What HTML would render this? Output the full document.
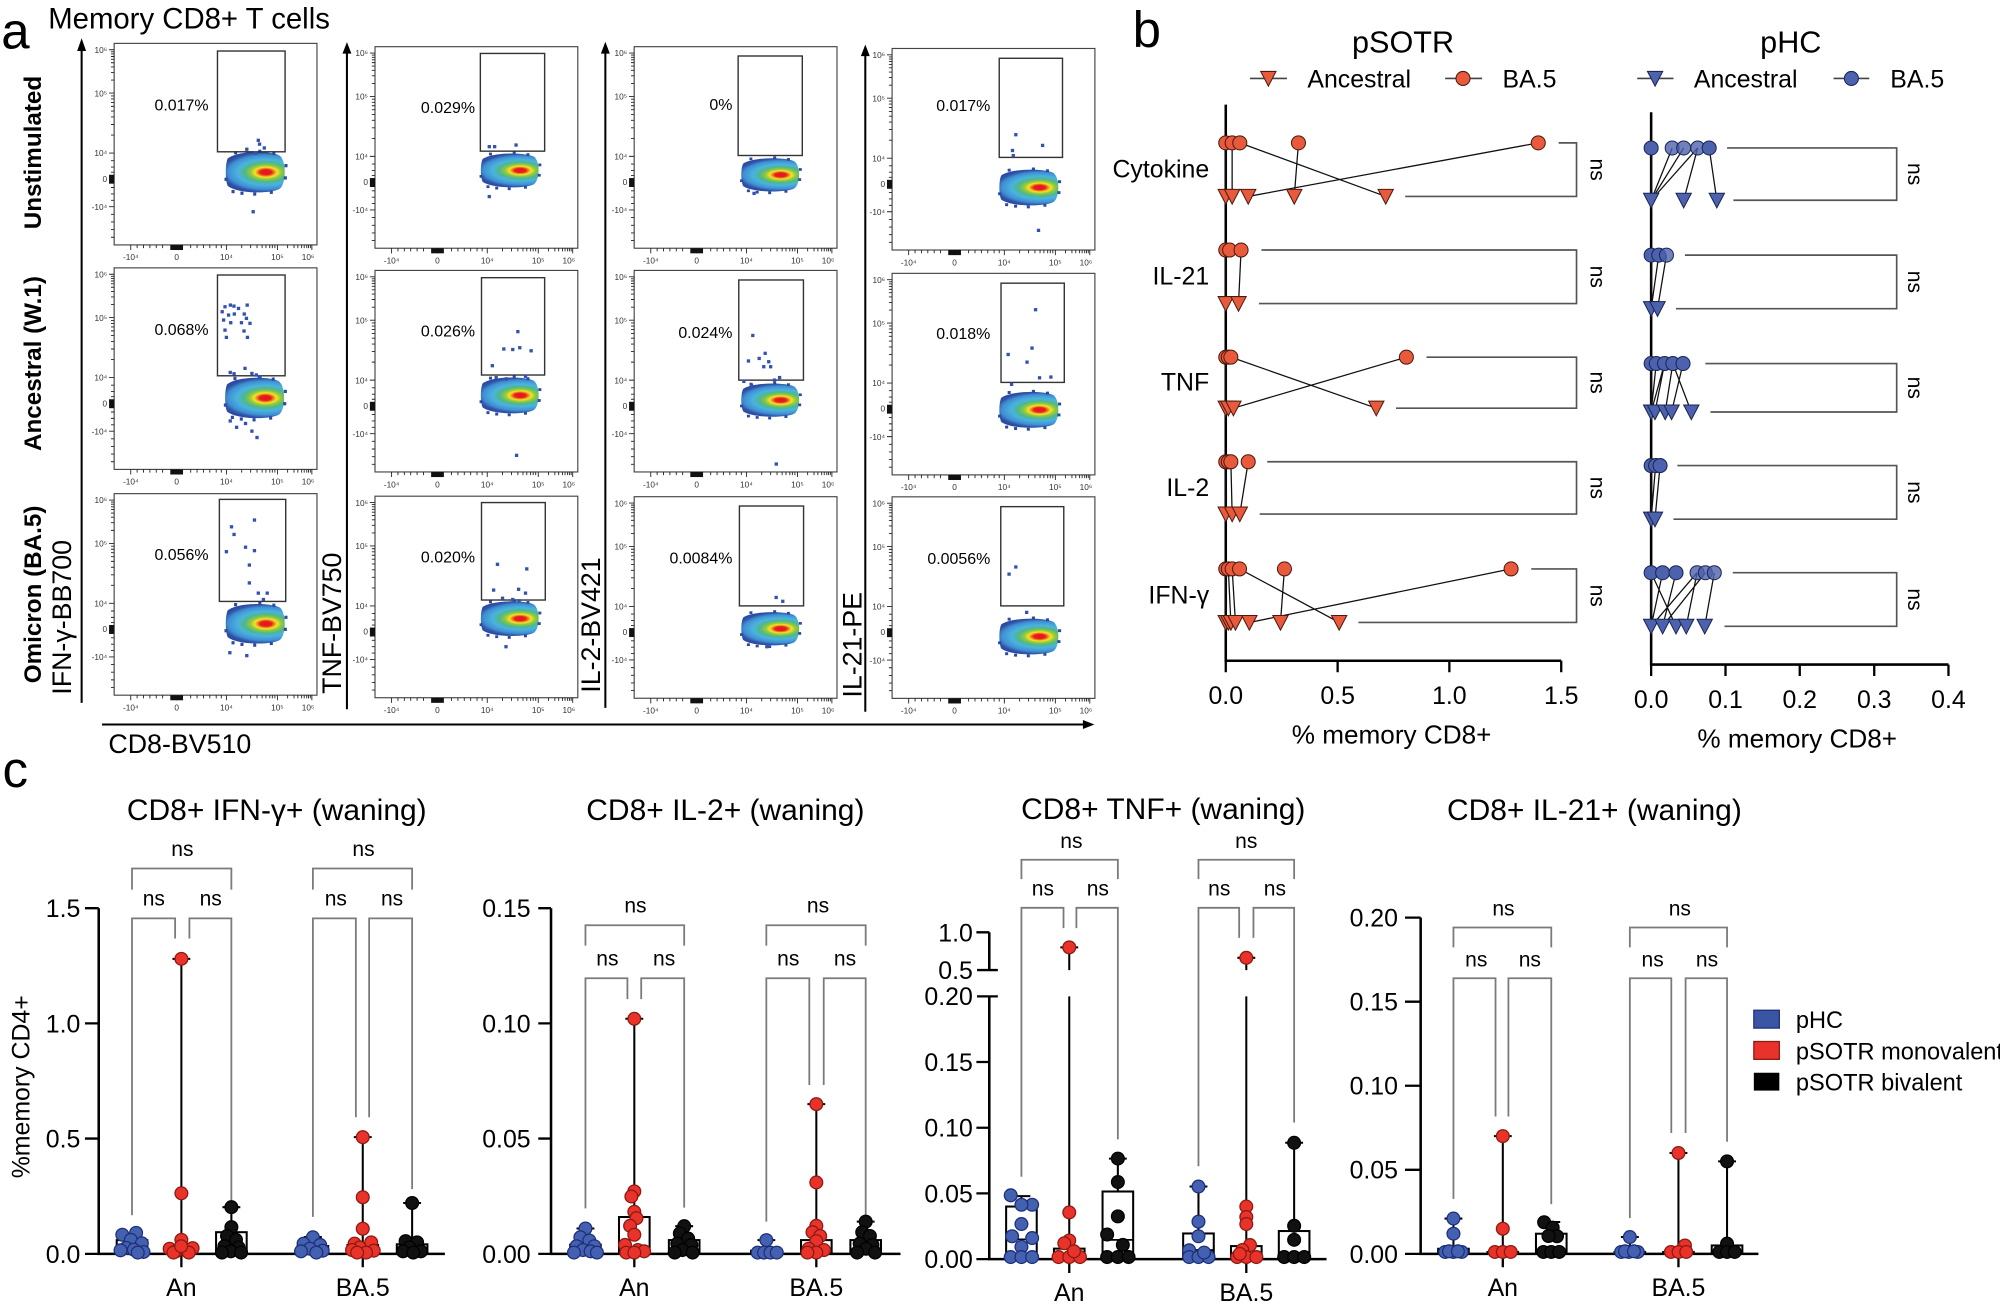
<!DOCTYPE html>
<html><head><meta charset="utf-8">
<style>
html,body{margin:0;padding:0;background:#fff;}
svg{display:block;}
text{font-family:"Liberation Sans",Arial,sans-serif;fill:#000;}
.tl{font-size:6.5px;text-anchor:end;fill:#333}
.tx{font-size:6.5px;text-anchor:middle;fill:#333}
.gate{fill:none;stroke:#333;stroke-width:1.1}
.pct{font-size:12.5px;text-anchor:end}
.d{fill:#3352b0}
.ax{stroke:#000;stroke-width:2;fill:none}
.tk{stroke:#000;stroke-width:1.8;fill:none}
.br{stroke:#7a7a7a;stroke-width:1.4;fill:none}
.bx{fill:#fff;stroke:#000;stroke-width:1.6}
.wh{stroke:#000;stroke-width:1.6;fill:none}
.md{stroke:#000;stroke-width:1.4}
.pb{fill:#4461b1;stroke:#1d2f78;stroke-width:1}
.pr{fill:#e8322a;stroke:#8c1a12;stroke-width:1}
.pk{fill:#111;stroke:#000;stroke-width:1}
.ns{font-size:16.5px;text-anchor:middle}
.yl{font-size:19.5px;text-anchor:end}
.xl{font-size:19.5px;text-anchor:middle}
.bl{stroke:#111;stroke-width:1;fill:none}
.br2{stroke:#555;stroke-width:1.3;fill:none}
.os{fill:#e95a3c;stroke:#4a1a10;stroke-width:0.8}
.bs{fill:#4c62ae;stroke:#1c2550;stroke-width:0.8}
.cat{font-size:19.5px;text-anchor:end}
</style></head><body>
<svg xmlns="http://www.w3.org/2000/svg" xmlns:xlink="http://www.w3.org/1999/xlink" width="2000" height="1310" viewBox="0 0 1568 1027" preserveAspectRatio="none">
<defs>
<radialGradient id="bg" gradientUnits="userSpaceOnUse" cx="8" cy="0" r="38" gradientTransform="translate(8 0) scale(1 0.42) translate(-8 0)">
<stop offset="0" stop-color="#e0141b"/>
<stop offset="0.12" stop-color="#e8201c"/>
<stop offset="0.17" stop-color="#f47a22"/>
<stop offset="0.23" stop-color="#f3e523"/>
<stop offset="0.32" stop-color="#93c83e"/>
<stop offset="0.44" stop-color="#4db88a"/>
<stop offset="0.58" stop-color="#4ab3e0"/>
<stop offset="0.78" stop-color="#3f8fd2"/>
<stop offset="0.9" stop-color="#2f53a8"/>
<stop offset="1" stop-color="#2b47a0"/>
</radialGradient>
<g id="blob">
<path d="M-22,-10 C-14,-16 12,-16 19,-12 C24,-8 24,8 19,12 C12,16 -14,16 -22,10 C-24,6 -24,-6 -22,-10Z" fill="url(#bg)"/>
<g fill="#2b4aa2">
<rect x="-19" y="13" width="2.4" height="2.4"/><rect x="-12" y="14.2" width="2.4" height="2.4"/><rect x="-2" y="14.8" width="2.4" height="2.4"/><rect x="11" y="13.5" width="2.4" height="2.4"/>
<rect x="-17" y="-15.5" width="2.4" height="2.4"/><rect x="2" y="-16.5" width="2.4" height="2.4"/><rect x="13" y="-15" width="2.4" height="2.4"/><rect x="22" y="3" width="2.4" height="2.4"/><rect x="22.5" y="-6" width="2.4" height="2.4"/><rect x="-24.5" y="4" width="2.4" height="2.4"/>
</g>
</g>
<g id="ax">
<rect x="0" y="0" width="159" height="158" fill="none" stroke="#444" stroke-width="0.9"/>
<path stroke="#222" stroke-width="0.7" fill="none" d="M-4,5H0M-4,39H0M-4,86H0M-4,128H0M-2.5,6.6H0M-2.5,8.3H0M-2.5,10.3H0M-2.5,12.5H0M-2.5,15.2H0M-2.5,18.5H0M-2.5,22.8H0M-2.5,28.8H0M-2.5,41.2H0M-2.5,43.6H0M-2.5,46.3H0M-2.5,49.4H0M-2.5,53.1H0M-2.5,57.7H0M-2.5,63.6H0M-2.5,71.9H0M-2.5,92H0M-2.5,97H0M-2.5,101H0M-2.5,113H0M-2.5,118H0M-2.5,123H0M-2.5,134H0M-2.5,140H0M-2.5,146H0M-2.5,152H0"/>
<rect x="-4" y="103" width="4" height="7" fill="#111"/>
<path stroke="#222" stroke-width="0.7" fill="none" d="M13,158v4M49,158v4M88,158v4M128,158v4M155,158v4M18,158v2.5M23,158v2.5M28,158v2.5M33,158v2.5M38,158v2.5M60,158v2.5M65,158v2.5M70,158v2.5M75,158v2.5M80,158v2.5M84,158v2.5M100,158v2.5M107,158v2.5M112,158v2.5M116,158v2.5M119,158v2.5M122,158v2.5M124,158v2.5M126,158v2.5M136,158v2.5M141,158v2.5M144,158v2.5M147,158v2.5M149,158v2.5M151,158v2.5M152.4,158v2.5M153.8,158v2.5"/>
<rect x="44" y="158" width="10" height="4" fill="#111"/>
</g>
<path id="tri" d="M-6,-5.5L6,-5.5L0,6Z"/>
</defs>

<!-- ================= PANEL A ================= -->
<text x="1" y="38" font-size="40">a</text>
<text x="37.8" y="22.5" font-size="23">Memory CD8+ T cells</text>

<text transform="translate(32,119.6) rotate(-90)" font-size="19" font-weight="bold" text-anchor="middle">Unstimulated</text>
<text transform="translate(32,285) rotate(-90)" font-size="19" font-weight="bold" text-anchor="middle">Ancestral (W.1)</text>
<text transform="translate(32,466) rotate(-90)" font-size="19" font-weight="bold" text-anchor="middle">Omicron (BA.5)</text>
<text transform="translate(55.5,484) rotate(-90)" font-size="21" text-anchor="middle">IFN-γ-BB700</text>
<text transform="translate(267.5,488.6) rotate(-90)" font-size="21" text-anchor="middle">TNF-BV750</text>
<text transform="translate(470.5,490) rotate(-90)" font-size="21" text-anchor="middle">IL-2-BV421</text>
<text transform="translate(675.5,505.5) rotate(-90)" font-size="21" text-anchor="middle">IL-21-PE</text>
<text x="85" y="590.5" font-size="21">CD8-BV510</text>

<g stroke="#000" stroke-width="1.6" fill="none">
<path d="M64,551V38M272,556V41M474.6,555V41M678.4,558V43M80,568H850"/>
</g>
<g fill="#000">
<polygon points="60.5,40 67.5,40 64,30"/>
<polygon points="268.5,42 275.5,42 272,33"/>
<polygon points="471.1,42 478.1,42 474.6,32.7"/>
<polygon points="674.9,44 681.9,44 678.4,35"/>
<polygon points="849,564.5 849,571.5 858,568"/>
</g>

<!-- col1 row1 -->
<g transform="translate(89.5,34)">
<use href="#ax" xlink:href="#ax"/>
<use href="#blob" xlink:href="#blob" transform="translate(111,101) scale(1,1.07)"/>
<rect class="gate" x="81" y="6" width="53" height="79"/>
<text class="pct" x="74" y="52.5">0.017%</text>
<g class="d"><rect x="111.7" y="74.7" width="2.6" height="2.6"/><rect x="112.7" y="77.7" width="2.6" height="2.6"/><rect x="116.4" y="80.7" width="2.6" height="2.6"/><rect x="102.7" y="81.7" width="2.6" height="2.6"/><rect x="109.7" y="84.7" width="2.6" height="2.6"/><rect x="107.7" y="130.7" width="2.6" height="2.6"/></g>
<text class="tl" x="-5.5" y="7.5">10⁶</text><text class="tl" x="-5.5" y="41.5">10⁵</text><text class="tl" x="-5.5" y="88.5">10⁴</text><text class="tl" x="-5.5" y="108.5">0</text><text class="tl" x="-5.5" y="130.5">-10⁴</text>
<text class="tx" x="13" y="170">-10⁴</text><text class="tx" x="49" y="170">0</text><text class="tx" x="88" y="170">10⁴</text><text class="tx" x="128" y="170">10⁵</text><text class="tx" x="152" y="170">10⁶</text>
</g>
<!-- col1 row2 -->
<g transform="translate(89.5,210)">
<use href="#ax" xlink:href="#ax"/>
<use href="#blob" xlink:href="#blob" transform="translate(110.5,102) scale(1,1.07)"/>
<rect class="gate" x="81" y="5.6" width="53" height="79"/>
<text class="pct" x="74" y="52.5">0.068%</text>
<g class="d"><rect x="85.6" y="29.2" width="2.6" height="2.6"/><rect x="89.8" y="27.9" width="2.6" height="2.6"/><rect x="92.6" y="28.7" width="2.6" height="2.6"/><rect x="96.2" y="30.5" width="2.6" height="2.6"/><rect x="103" y="27.9" width="2.6" height="2.6"/><rect x="83.4" y="33.1" width="2.6" height="2.6"/><rect x="88.4" y="35.7" width="2.6" height="2.6"/><rect x="92.9" y="34.9" width="2.6" height="2.6"/><rect x="100.7" y="34.9" width="2.6" height="2.6"/><rect x="102.4" y="38.3" width="2.6" height="2.6"/><rect x="84.5" y="39.6" width="2.6" height="2.6"/><rect x="90.1" y="41.7" width="2.6" height="2.6"/><rect x="98.5" y="41.7" width="2.6" height="2.6"/><rect x="105.2" y="42.2" width="2.6" height="2.6"/><rect x="85.6" y="47.5" width="2.6" height="2.6"/><rect x="100.5" y="48.2" width="2.6" height="2.6"/><rect x="86.7" y="53.2" width="2.6" height="2.6"/><rect x="103.2" y="53.2" width="2.6" height="2.6"/><rect x="89.7" y="80.7" width="2.6" height="2.6"/><rect x="92.7" y="81.7" width="2.6" height="2.6"/><rect x="101.3" y="77.5" width="2.6" height="2.6"/><rect x="106.7" y="81.5" width="2.6" height="2.6"/><rect x="110.2" y="82.7" width="2.6" height="2.6"/><rect x="113.1" y="84" width="2.6" height="2.6"/><rect x="89.7" y="118.7" width="2.6" height="2.6"/><rect x="94.7" y="123.7" width="2.6" height="2.6"/><rect x="101.7" y="120.7" width="2.6" height="2.6"/><rect x="106.7" y="126.7" width="2.6" height="2.6"/><rect x="110.7" y="131.7" width="2.6" height="2.6"/></g>
<text class="tl" x="-5.5" y="7.5">10⁶</text><text class="tl" x="-5.5" y="41.5">10⁵</text><text class="tl" x="-5.5" y="88.5">10⁴</text><text class="tl" x="-5.5" y="108.5">0</text><text class="tl" x="-5.5" y="130.5">-10⁴</text>
<text class="tx" x="13" y="170">-10⁴</text><text class="tx" x="49" y="170">0</text><text class="tx" x="88" y="170">10⁴</text><text class="tx" x="128" y="170">10⁵</text><text class="tx" x="152" y="170">10⁶</text>
</g>
<!-- col1 row3 -->
<g transform="translate(89.5,387)">
<use href="#ax" xlink:href="#ax"/>
<use href="#blob" xlink:href="#blob" transform="translate(111,102) scale(1,1.05)"/>
<rect class="gate" x="82.5" y="4.5" width="52" height="80"/>
<text class="pct" x="74" y="52">0.056%</text>
<g class="d"><rect x="90.7" y="24.7" width="2.6" height="2.6"/><rect x="108.7" y="19.4" width="2.6" height="2.6"/><rect x="92.7" y="30.7" width="2.6" height="2.6"/><rect x="86.7" y="44.2" width="2.6" height="2.6"/><rect x="101.7" y="40.7" width="2.6" height="2.6"/><rect x="108.7" y="43.4" width="2.6" height="2.6"/><rect x="104.7" y="54.7" width="2.6" height="2.6"/><rect x="104.7" y="68.7" width="2.6" height="2.6"/><rect x="111.7" y="76.7" width="2.6" height="2.6"/><rect x="118.7" y="76.7" width="2.6" height="2.6"/><rect x="115.7" y="81.7" width="2.6" height="2.6"/><rect x="89.4" y="123.4" width="2.6" height="2.6"/><rect x="102.7" y="125.7" width="2.6" height="2.6"/></g>
<text class="tl" x="-5.5" y="7.5">10⁶</text><text class="tl" x="-5.5" y="41.5">10⁵</text><text class="tl" x="-5.5" y="88.5">10⁴</text><text class="tl" x="-5.5" y="108.5">0</text><text class="tl" x="-5.5" y="130.5">-10⁴</text>
<text class="tx" x="13" y="170">-10⁴</text><text class="tx" x="49" y="170">0</text><text class="tx" x="88" y="170">10⁴</text><text class="tx" x="128" y="170">10⁵</text><text class="tx" x="152" y="170">10⁶</text>
</g>

<!-- col2 row1 -->
<g transform="translate(294,36.6)">
<use href="#ax" xlink:href="#ax"/>
<use href="#blob" xlink:href="#blob" transform="translate(106,97) scale(0.98,0.9)"/>
<rect class="gate" x="82.6" y="5.3" width="50.4" height="76.6"/>
<text class="pct" x="78.4" y="52">0.029%</text>
<g class="d"><rect x="88.3" y="116.2" width="2.6" height="2.6"/><rect x="88.3" y="77.1" width="2.6" height="2.6"/><rect x="92.5" y="77.1" width="2.6" height="2.6"/><rect x="109.3" y="75.8" width="2.6" height="2.6"/></g>
<text class="tl" x="-5.5" y="7.5">10⁶</text><text class="tl" x="-5.5" y="41.5">10⁵</text><text class="tl" x="-5.5" y="88.5">10⁴</text><text class="tl" x="-5.5" y="108.5">0</text><text class="tl" x="-5.5" y="130.5">-10⁴</text>
<text class="tx" x="13" y="170">-10⁴</text><text class="tx" x="49" y="170">0</text><text class="tx" x="88" y="170">10⁴</text><text class="tx" x="128" y="170">10⁵</text><text class="tx" x="152" y="170">10⁶</text>
</g>
<!-- col2 row2 -->
<g transform="translate(294,212)">
<use href="#ax" xlink:href="#ax"/>
<use href="#blob" xlink:href="#blob" transform="translate(106,98) scale(0.98,0.95)"/>
<rect class="gate" x="83.5" y="5.7" width="49.5" height="76.3"/>
<text class="pct" x="78.4" y="52">0.026%</text>
<g class="d"><rect x="110.7" y="46.7" width="2.6" height="2.6"/><rect x="99.7" y="60.3" width="2.6" height="2.6"/><rect x="106.7" y="60.7" width="2.6" height="2.6"/><rect x="112.2" y="59.3" width="2.6" height="2.6"/><rect x="121.1" y="61.7" width="2.6" height="2.6"/><rect x="90.7" y="73.4" width="2.6" height="2.6"/><rect x="109.7" y="143.7" width="2.6" height="2.6"/><rect x="93.7" y="82.7" width="2.6" height="2.6"/><rect x="101.7" y="83.7" width="2.6" height="2.6"/><rect x="116.7" y="81.7" width="2.6" height="2.6"/></g>
<text class="tl" x="-5.5" y="7.5">10⁶</text><text class="tl" x="-5.5" y="41.5">10⁵</text><text class="tl" x="-5.5" y="88.5">10⁴</text><text class="tl" x="-5.5" y="108.5">0</text><text class="tl" x="-5.5" y="130.5">-10⁴</text>
<text class="tx" x="13" y="170">-10⁴</text><text class="tx" x="49" y="170">0</text><text class="tx" x="88" y="170">10⁴</text><text class="tx" x="128" y="170">10⁵</text><text class="tx" x="152" y="170">10⁶</text>
</g>
<!-- col2 row3 -->
<g transform="translate(294,389)">
<use href="#ax" xlink:href="#ax"/>
<use href="#blob" xlink:href="#blob" transform="translate(106,96) scale(0.98,0.92)"/>
<rect class="gate" x="83.5" y="5" width="50" height="76.4"/>
<text class="pct" x="78.4" y="52">0.020%</text>
<g class="d"><rect x="94.7" y="52.1" width="2.6" height="2.6"/><rect x="117.7" y="55.7" width="2.6" height="2.6"/><rect x="91.7" y="72.3" width="2.6" height="2.6"/><rect x="111.3" y="71.7" width="2.6" height="2.6"/><rect x="116.7" y="74.7" width="2.6" height="2.6"/><rect x="101.4" y="116.7" width="2.6" height="2.6"/><rect x="98.7" y="78.7" width="2.6" height="2.6"/><rect x="106.7" y="79.7" width="2.6" height="2.6"/><rect x="111.7" y="80.7" width="2.6" height="2.6"/></g>
<text class="tl" x="-5.5" y="7.5">10⁶</text><text class="tl" x="-5.5" y="41.5">10⁵</text><text class="tl" x="-5.5" y="88.5">10⁴</text><text class="tl" x="-5.5" y="108.5">0</text><text class="tl" x="-5.5" y="130.5">-10⁴</text>
<text class="tx" x="13" y="170">-10⁴</text><text class="tx" x="49" y="170">0</text><text class="tx" x="88" y="170">10⁴</text><text class="tx" x="128" y="170">10⁵</text><text class="tx" x="152" y="170">10⁶</text>
</g>

<!-- col3 row1 -->
<g transform="translate(497.2,36.6)">
<use href="#ax" xlink:href="#ax"/>
<use href="#blob" xlink:href="#blob" transform="translate(107,100.5) scale(0.98,0.88)"/>
<rect class="gate" x="81.5" y="7.3" width="50.3" height="78"/>
<text class="pct" x="77" y="49.5">0%</text>
<g class="d"><rect x="92.7" y="113.7" width="2.6" height="2.6"/></g>
<text class="tl" x="-5.5" y="7.5">10⁶</text><text class="tl" x="-5.5" y="41.5">10⁵</text><text class="tl" x="-5.5" y="88.5">10⁴</text><text class="tl" x="-5.5" y="108.5">0</text><text class="tl" x="-5.5" y="130.5">-10⁴</text>
<text class="tx" x="13" y="170">-10⁴</text><text class="tx" x="49" y="170">0</text><text class="tx" x="88" y="170">10⁴</text><text class="tx" x="128" y="170">10⁵</text><text class="tx" x="152" y="170">10⁶</text>
</g>
<!-- col3 row2 -->
<g transform="translate(497.2,212)">
<use href="#ax" xlink:href="#ax"/>
<use href="#blob" xlink:href="#blob" transform="translate(107,101.7) scale(0.98,0.88)"/>
<rect class="gate" x="82" y="7.5" width="50.7" height="78.5"/>
<text class="pct" x="77" y="53">0.024%</text>
<g class="d"><rect x="91.7" y="49.7" width="2.6" height="2.6"/><rect x="101.4" y="63.7" width="2.6" height="2.6"/><rect x="96.7" y="67.7" width="2.6" height="2.6"/><rect x="104.2" y="70.3" width="2.6" height="2.6"/><rect x="88.3" y="69.7" width="2.6" height="2.6"/><rect x="100.3" y="74.2" width="2.6" height="2.6"/><rect x="105.7" y="74.2" width="2.6" height="2.6"/><rect x="110.1" y="150.5" width="2.6" height="2.6"/><rect x="84.7" y="85.7" width="2.6" height="2.6"/><rect x="90.7" y="88.7" width="2.6" height="2.6"/><rect x="108.7" y="84.7" width="2.6" height="2.6"/><rect x="112.7" y="82.7" width="2.6" height="2.6"/></g>
<text class="tl" x="-5.5" y="7.5">10⁶</text><text class="tl" x="-5.5" y="41.5">10⁵</text><text class="tl" x="-5.5" y="88.5">10⁴</text><text class="tl" x="-5.5" y="108.5">0</text><text class="tl" x="-5.5" y="130.5">-10⁴</text>
<text class="tx" x="13" y="170">-10⁴</text><text class="tx" x="49" y="170">0</text><text class="tx" x="88" y="170">10⁴</text><text class="tx" x="128" y="170">10⁵</text><text class="tx" x="152" y="170">10⁶</text>
</g>
<!-- col3 row3 -->
<g transform="translate(497.2,389.4)">
<use href="#ax" xlink:href="#ax"/>
<use href="#blob" xlink:href="#blob" transform="translate(107,103.5) scale(0.98,0.88)"/>
<rect class="gate" x="82.5" y="7.3" width="50.3" height="78.3"/>
<text class="pct" x="77" y="52.5">0.0084%</text>
<g class="d"><rect x="110" y="77.7" width="2.6" height="2.6"/><rect x="115.2" y="80.7" width="2.6" height="2.6"/><rect x="102.7" y="116.3" width="2.6" height="2.6"/></g>
<text class="tl" x="-5.5" y="7.5">10⁶</text><text class="tl" x="-5.5" y="41.5">10⁵</text><text class="tl" x="-5.5" y="88.5">10⁴</text><text class="tl" x="-5.5" y="108.5">0</text><text class="tl" x="-5.5" y="130.5">-10⁴</text>
<text class="tx" x="13" y="170">-10⁴</text><text class="tx" x="49" y="170">0</text><text class="tx" x="88" y="170">10⁴</text><text class="tx" x="128" y="170">10⁵</text><text class="tx" x="152" y="170">10⁶</text>
</g>

<!-- col4 row1 -->
<g transform="translate(699.4,38)">
<use href="#ax" xlink:href="#ax"/>
<use href="#blob" xlink:href="#blob" transform="translate(107.6,109) scale(1,0.95)"/>
<rect class="gate" x="84" y="7.7" width="49.6" height="77.7"/>
<text class="pct" x="77" y="49">0.017%</text>
<g class="d"><rect x="95.7" y="66.3" width="2.6" height="2.6"/><rect x="116.7" y="74.7" width="2.6" height="2.6"/><rect x="93.1" y="78.7" width="2.6" height="2.6"/><rect x="93.7" y="82.7" width="2.6" height="2.6"/><rect x="113.5" y="141.3" width="2.6" height="2.6"/></g>
<text class="tl" x="-5.5" y="7.5">10⁶</text><text class="tl" x="-5.5" y="41.5">10⁵</text><text class="tl" x="-5.5" y="88.5">10⁴</text><text class="tl" x="-5.5" y="108.5">0</text><text class="tl" x="-5.5" y="130.5">-10⁴</text>
<text class="tx" x="13" y="170">-10⁴</text><text class="tx" x="49" y="170">0</text><text class="tx" x="88" y="170">10⁴</text><text class="tx" x="128" y="170">10⁵</text><text class="tx" x="152" y="170">10⁶</text>
</g>
<!-- col4 row2 -->
<g transform="translate(699.4,214.3)">
<use href="#ax" xlink:href="#ax"/>
<use href="#blob" xlink:href="#blob" transform="translate(107.6,107) scale(1,0.95)"/>
<rect class="gate" x="85.4" y="7.7" width="49.6" height="77.8"/>
<text class="pct" x="77" y="51.5">0.018%</text>
<g class="d"><rect x="111.2" y="27.2" width="2.6" height="2.6"/><rect x="108.4" y="57.3" width="2.6" height="2.6"/><rect x="89.7" y="62.3" width="2.6" height="2.6"/><rect x="104.5" y="68.3" width="2.6" height="2.6"/><rect x="114.3" y="80.6" width="2.6" height="2.6"/><rect x="123.2" y="80" width="2.6" height="2.6"/><rect x="92.4" y="85.7" width="2.6" height="2.6"/></g>
<text class="tl" x="-5.5" y="7.5">10⁶</text><text class="tl" x="-5.5" y="41.5">10⁵</text><text class="tl" x="-5.5" y="88.5">10⁴</text><text class="tl" x="-5.5" y="108.5">0</text><text class="tl" x="-5.5" y="130.5">-10⁴</text>
<text class="tx" x="13" y="170">-10⁴</text><text class="tx" x="49" y="170">0</text><text class="tx" x="88" y="170">10⁴</text><text class="tx" x="128" y="170">10⁵</text><text class="tx" x="152" y="170">10⁶</text>
</g>
<!-- col4 row3 -->
<g transform="translate(699.4,389.5)">
<use href="#ax" xlink:href="#ax"/>
<use href="#blob" xlink:href="#blob" transform="translate(107.6,109.5) scale(1,0.95)"/>
<rect class="gate" x="85.2" y="7.7" width="49.4" height="77.8"/>
<text class="pct" x="77" y="52.5">0.0056%</text>
<g class="d"><rect x="95.7" y="53.7" width="2.6" height="2.6"/><rect x="90.4" y="59.3" width="2.6" height="2.6"/><rect x="104.2" y="89.3" width="2.6" height="2.6"/></g>
<text class="tl" x="-5.5" y="7.5">10⁶</text><text class="tl" x="-5.5" y="41.5">10⁵</text><text class="tl" x="-5.5" y="88.5">10⁴</text><text class="tl" x="-5.5" y="108.5">0</text><text class="tl" x="-5.5" y="130.5">-10⁴</text>
<text class="tx" x="13" y="170">-10⁴</text><text class="tx" x="49" y="170">0</text><text class="tx" x="88" y="170">10⁴</text><text class="tx" x="128" y="170">10⁵</text><text class="tx" x="152" y="170">10⁶</text>
</g>

<!-- ================= PANEL B ================= -->
<text x="888" y="37" font-size="40">b</text>
<text x="1100" y="41" font-size="24" text-anchor="middle">pSOTR</text>
<text x="1404" y="41" font-size="24" text-anchor="middle">pHC</text>

<g stroke="#444" stroke-width="1.3">
<path d="M980,61.5H1009M1133,61.5H1162M1283.6,61.5H1312M1437.5,61.5H1465.5"/>
</g>
<use href="#tri" xlink:href="#tri" x="994.4" y="61.5" class="os"/>
<circle cx="1147" cy="61.5" r="5.5" class="os"/>
<use href="#tri" xlink:href="#tri" x="1297.6" y="61.5" class="bs"/>
<circle cx="1451.5" cy="61.5" r="5.5" class="bs"/>
<text x="1025" y="68.5" font-size="19.5">Ancestral</text>
<text x="1178" y="68.5" font-size="19.5">BA.5</text>
<text x="1328" y="68.5" font-size="19.5">Ancestral</text>
<text x="1482" y="68.5" font-size="19.5">BA.5</text>

<path class="ax" d="M961,82V518H1224"/>
<path class="tk" d="M961,518v9M1048.7,518v9M1136.3,518v9M1224,518v9"/>
<text class="xl" x="961" y="552">0.0</text>
<text class="xl" x="1048.7" y="552">0.5</text>
<text class="xl" x="1136.3" y="552">1.0</text>
<text class="xl" x="1224" y="552">1.5</text>
<text x="1091" y="583" font-size="20.5" text-anchor="middle">% memory CD8+</text>

<text class="cat" x="948" y="139">Cytokine</text>
<text class="cat" x="948" y="223">IL-21</text>
<text class="cat" x="948" y="306">TNF</text>
<text class="cat" x="948" y="389">IL-2</text>
<text class="cat" x="948" y="473">IFN-γ</text>

<path class="bl" d="M961,112L961,154M966,112L966,154M972,112L1086.4,154M1018,112L1014.7,154M1206,112L978.6,154
M961,196L961,238M973,196L971,238
M961,280L961,320M965,280L1079,320M1102.6,280L967,320
M961,362L961,403M965,362L966,403M978.6,362L972,403
M961,446L961,488M963,446L965,488M971.8,446L1049.9,488M1007,446L1003.9,488M1184.7,446L979.5,488M966,446L968.6,488"/>

<g class="os">
<circle cx="961" cy="112" r="5.5"/><circle cx="966" cy="112" r="5.5"/><circle cx="972" cy="112" r="5.5"/><circle cx="1018" cy="112" r="5.5"/><circle cx="1206" cy="112" r="5.5"/>
<use href="#tri" xlink:href="#tri" x="961" y="154"/><use href="#tri" xlink:href="#tri" x="966" y="154"/><use href="#tri" xlink:href="#tri" x="978.6" y="154"/><use href="#tri" xlink:href="#tri" x="1014.7" y="154"/><use href="#tri" xlink:href="#tri" x="1086.4" y="154"/>
<circle cx="961" cy="196" r="5.5"/><circle cx="964" cy="196" r="5.5"/><circle cx="973" cy="196" r="5.5"/>
<use href="#tri" xlink:href="#tri" x="961" y="238"/><use href="#tri" xlink:href="#tri" x="971" y="238"/>
<circle cx="961" cy="280" r="5.5"/><circle cx="963" cy="280" r="5.5"/><circle cx="965" cy="280" r="5.5"/><circle cx="1102.6" cy="280" r="5.5"/>
<use href="#tri" xlink:href="#tri" x="961" y="320"/><use href="#tri" xlink:href="#tri" x="963" y="320"/><use href="#tri" xlink:href="#tri" x="967" y="320"/><use href="#tri" xlink:href="#tri" x="1079" y="320"/>
<circle cx="961" cy="362" r="5.5"/><circle cx="963" cy="362" r="5.5"/><circle cx="965" cy="362" r="5.5"/><circle cx="978.6" cy="362" r="5.5"/>
<use href="#tri" xlink:href="#tri" x="961" y="403"/><use href="#tri" xlink:href="#tri" x="966" y="403"/><use href="#tri" xlink:href="#tri" x="972" y="403"/>
<circle cx="961" cy="446" r="5.5"/><circle cx="963" cy="446" r="5.5"/><circle cx="966" cy="446" r="5.5"/><circle cx="971.8" cy="446" r="5.5"/><circle cx="1007" cy="446" r="5.5"/><circle cx="1184.7" cy="446" r="5.5"/>
<use href="#tri" xlink:href="#tri" x="961" y="488"/><use href="#tri" xlink:href="#tri" x="963" y="488"/><use href="#tri" xlink:href="#tri" x="965" y="488"/><use href="#tri" xlink:href="#tri" x="968.6" y="488"/><use href="#tri" xlink:href="#tri" x="979.5" y="488"/><use href="#tri" xlink:href="#tri" x="1003.9" y="488"/><use href="#tri" xlink:href="#tri" x="1049.9" y="488"/>
</g>

<path class="br2" d="M1222,112H1236V154H1101.7M989,196H1236V238H987M1118.4,280H1236V320H1094.5M993.5,362H1236V403H987.6M1200.5,446H1236V488H1065"/>
<text class="ns" transform="translate(1247,133) rotate(90)">ns</text>
<text class="ns" transform="translate(1247,217) rotate(90)">ns</text>
<text class="ns" transform="translate(1247,300) rotate(90)">ns</text>
<text class="ns" transform="translate(1247,382.5) rotate(90)">ns</text>
<text class="ns" transform="translate(1247,467) rotate(90)">ns</text>

<path class="ax" d="M1294.5,88V521H1527.6"/>
<path class="tk" d="M1294.5,521v9M1352.8,521v9M1411,521v9M1469.4,521v9M1527.6,521v9"/>
<text class="xl" x="1294.5" y="555">0.0</text>
<text class="xl" x="1352.8" y="555">0.1</text>
<text class="xl" x="1411" y="555">0.2</text>
<text class="xl" x="1469.4" y="555">0.3</text>
<text class="xl" x="1527.6" y="555">0.4</text>
<text x="1409" y="586" font-size="20.5" text-anchor="middle">% memory CD8+</text>

<path class="bl" d="M1294.5,116L1294.5,157M1311,116L1294.5,157M1320,116L1294.5,157M1331,116L1294.5,157M1331,116L1320,157M1340,116L1346,157
M1294.5,200L1294.5,242M1300.5,200L1294.5,242M1306.5,200L1299.5,242
M1294.5,285L1294.5,323M1298.5,285L1294.5,323M1305,285L1297.5,323M1311.5,285L1305.5,323M1319.5,285L1310.5,323M1311.5,285L1326,323M1305,285L1294.5,323
M1294.5,365L1294.5,407M1298,365L1294.5,407M1301.5,365L1297.5,407
M1294.5,449L1294.5,491M1303.5,449L1294.5,491M1314,449L1303.5,491M1330.5,449L1294.5,491M1337,449L1303.5,491M1344,449L1336.5,491M1294.5,449L1314,491M1330.5,449L1322,491"/>

<g class="bs">
<circle cx="1294.5" cy="116" r="5.5"/><circle cx="1311" cy="116" r="5.5" fill-opacity="0.8"/><circle cx="1320" cy="116" r="5.5" fill-opacity="0.8"/><circle cx="1331" cy="116" r="5.5" fill-opacity="0.8"/><circle cx="1340" cy="116" r="5.5"/>
<use href="#tri" xlink:href="#tri" x="1294.5" y="157"/><use href="#tri" xlink:href="#tri" x="1320" y="157"/><use href="#tri" xlink:href="#tri" x="1346" y="157"/>
<circle cx="1294.5" cy="200" r="5.5"/><circle cx="1300.5" cy="200" r="5.5"/><circle cx="1306.5" cy="200" r="5.5" fill-opacity="0.8"/>
<use href="#tri" xlink:href="#tri" x="1294.5" y="242"/><use href="#tri" xlink:href="#tri" x="1299.5" y="242"/>
<circle cx="1294.5" cy="285" r="5.5"/><circle cx="1298.5" cy="285" r="5.5"/><circle cx="1305" cy="285" r="5.5"/><circle cx="1311.5" cy="285" r="5.5"/><circle cx="1319.5" cy="285" r="5.5"/>
<use href="#tri" xlink:href="#tri" x="1294.5" y="323"/><use href="#tri" xlink:href="#tri" x="1297.5" y="323"/><use href="#tri" xlink:href="#tri" x="1305.5" y="323"/><use href="#tri" xlink:href="#tri" x="1310.5" y="323"/><use href="#tri" xlink:href="#tri" x="1326" y="323"/>
<circle cx="1294.5" cy="365" r="5.5"/><circle cx="1298" cy="365" r="5.5"/><circle cx="1301.5" cy="365" r="5.5"/>
<use href="#tri" xlink:href="#tri" x="1294.5" y="407"/><use href="#tri" xlink:href="#tri" x="1297.5" y="407"/>
<circle cx="1294.5" cy="449" r="5.5"/><circle cx="1303.5" cy="449" r="5.5"/><circle cx="1314" cy="449" r="5.5"/><circle cx="1330.5" cy="449" r="5.5" fill-opacity="0.8"/><circle cx="1337" cy="449" r="5.5" fill-opacity="0.8"/><circle cx="1344" cy="449" r="5.5" fill-opacity="0.8"/>
<use href="#tri" xlink:href="#tri" x="1294.5" y="491"/><use href="#tri" xlink:href="#tri" x="1303.5" y="491"/><use href="#tri" xlink:href="#tri" x="1314" y="491"/><use href="#tri" xlink:href="#tri" x="1322" y="491"/><use href="#tri" xlink:href="#tri" x="1336.5" y="491"/>
</g>

<path class="br2" d="M1354,116H1487V157H1359M1321,200H1487V242H1314M1337,285H1487V323H1341M1315,365H1487V407H1312M1358.5,449H1487V491H1352"/>
<text class="ns" transform="translate(1496,136.5) rotate(90)">ns</text>
<text class="ns" transform="translate(1496,221) rotate(90)">ns</text>
<text class="ns" transform="translate(1496,304) rotate(90)">ns</text>
<text class="ns" transform="translate(1496,386) rotate(90)">ns</text>
<text class="ns" transform="translate(1496,470) rotate(90)">ns</text>

<!-- ================= PANEL C ================= -->
<text x="2" y="617" font-size="40">c</text>
<text transform="translate(23,852) rotate(-90)" font-size="19.5" text-anchor="middle">%memory CD4+</text>

<!-- c1 -->
<text x="217" y="643" font-size="23.5" text-anchor="middle">CD8+ IFN-γ+ (waning)</text>
<path class="ax" d="M77.4,712V983H348.8"/>
<path class="tk" d="M66.6,712H77.4M66.6,802.3H77.4M66.6,892.6H77.4M66.6,983H77.4M142.2,983V993.5M284.4,983V993.5"/>
<text class="yl" x="63" y="719">1.5</text><text class="yl" x="63" y="809.3">1.0</text><text class="yl" x="63" y="899.6">0.5</text><text class="yl" x="63" y="990">0.0</text>
<text class="xl" x="142.2" y="1016">An</text><text class="xl" x="284.4" y="1016">BA.5</text>
<path class="br" d="M103.5,697.4V680.9H181.4V697.4M103.5,952.7V720H137.3V735.8M148.5,735.8V720H181.4V943.1M245.3,697.4V680.9H323.1V697.4M245.3,954V720H279V875.9M289.4,875.9V720H323.1V932.2"/>
<text class="ns" x="143" y="671">ns</text><text class="ns" x="120.6" y="710">ns</text><text class="ns" x="165.2" y="710">ns</text>
<text class="ns" x="285" y="671">ns</text><text class="ns" x="263.3" y="710">ns</text><text class="ns" x="307.4" y="710">ns</text>
<rect class="bx" x="91.5" y="972.2" width="24" height="10.8"/><rect class="bx" x="130.2" y="978.8" width="24" height="4.2"/><rect class="bx" x="169.4" y="966" width="24" height="17"/>
<rect class="bx" x="233.3" y="976.9" width="24" height="6.1"/><rect class="bx" x="272.4" y="976" width="24" height="7"/><rect class="bx" x="311.1" y="975.5" width="24" height="7.5"/>
<path class="wh" d="M103.5,972.2V968.5M96.5,968.5H110.5M142.2,978.8V751.7M135.2,751.7H149.2M181.4,966V946.4M174.4,946.4H188.4M245.3,976.9V969.8M238.3,969.8H252.3M284.4,976V891.5M277.4,891.5H291.4M323.1,975.5V943.1M316.1,943.1H330.1"/>
<g class="pb"><circle cx="95.9" cy="968" r="5"/><circle cx="106.7" cy="966.5" r="5"/><circle cx="102.6" cy="972" r="5"/><circle cx="111.2" cy="974.7" r="5"/><circle cx="99" cy="978.3" r="5"/><circle cx="104.9" cy="979.7" r="5"/><circle cx="112.5" cy="981.5" r="5"/><circle cx="94.5" cy="980.2" r="5"/><circle cx="108" cy="982" r="5"/>
<circle cx="245.3" cy="970" r="5"/><circle cx="238" cy="975" r="5"/><circle cx="251" cy="976" r="5"/><circle cx="243" cy="979" r="5"/><circle cx="253" cy="980.5" r="5"/><circle cx="236" cy="981" r="5"/><circle cx="248" cy="982" r="5"/></g>
<g class="pr"><circle cx="142.2" cy="751.7" r="5"/><circle cx="142.2" cy="935.5" r="5"/><circle cx="142.2" cy="972" r="5"/><circle cx="133" cy="979" r="5"/><circle cx="138" cy="981" r="5"/><circle cx="146" cy="980" r="5"/><circle cx="151" cy="978.5" r="5"/><circle cx="136" cy="982" r="5"/><circle cx="148" cy="982" r="5"/><circle cx="142" cy="977" r="5"/>
<circle cx="284.4" cy="891.5" r="5"/><circle cx="284.4" cy="938.6" r="5"/><circle cx="284.4" cy="963.3" r="5"/><circle cx="278" cy="975" r="5"/><circle cx="291" cy="974" r="5"/><circle cx="282" cy="978" r="5"/><circle cx="276" cy="980" r="5"/><circle cx="293" cy="980.5" r="5"/><circle cx="287" cy="982" r="5"/><circle cx="280" cy="982" r="5"/></g>
<g class="pk"><circle cx="181.4" cy="946.4" r="5"/><circle cx="181.4" cy="962" r="5"/><circle cx="178" cy="969" r="5"/><circle cx="185" cy="972" r="5"/><circle cx="176" cy="977" r="5"/><circle cx="187" cy="978" r="5"/><circle cx="181" cy="981" r="5"/><circle cx="174" cy="982" r="5"/><circle cx="189" cy="982" r="5"/>
<circle cx="323.1" cy="943.1" r="5"/><circle cx="318" cy="973" r="5"/><circle cx="327" cy="974" r="5"/><circle cx="321" cy="978" r="5"/><circle cx="316" cy="981" r="5"/><circle cx="330" cy="981" r="5"/><circle cx="324" cy="982" r="5"/></g>

<!-- c2 -->
<text x="568.7" y="643" font-size="23.5" text-anchor="middle">CD8+ IL-2+ (waning)</text>
<path class="ax" d="M432,712V983H706"/>
<path class="tk" d="M422,712H432M422,802.3H432M422,892.6H432M422,983H432M497.3,983V993.5M640,983V993.5"/>
<text class="yl" x="416" y="719">0.15</text><text class="yl" x="416" y="809.3">0.10</text><text class="yl" x="416" y="899.6">0.05</text><text class="yl" x="416" y="990">0.00</text>
<text class="xl" x="497.3" y="1016">An</text><text class="xl" x="640" y="1016">BA.5</text>
<path class="br" d="M459,741.3V725.4H536.4V741.3M459,947.3V766.9H491.9V783.3M502.7,783.3V766.9H536.4V946.7M600.8,741.3V725.4H678.7V741.3M600.8,957.7V766.9H634.5V850.6M645.8,850.6V766.9H678.7V952.7"/>
<text class="ns" x="498.2" y="715.5">ns</text><text class="ns" x="476.2" y="756.8">ns</text><text class="ns" x="520.7" y="756.8">ns</text>
<text class="ns" x="641.3" y="715.5">ns</text><text class="ns" x="618" y="756.8">ns</text><text class="ns" x="662.5" y="756.8">ns</text>
<rect class="bx" x="447" y="975.8" width="24" height="7.2"/><rect class="bx" x="485.3" y="954.1" width="24" height="28.9"/><rect class="bx" x="524.4" y="972.2" width="24" height="10.8"/>
<rect class="bx" x="588.8" y="980.5" width="24" height="2.5"/><rect class="bx" x="628" y="972.2" width="24" height="10.8"/><rect class="bx" x="666.7" y="972.2" width="24" height="10.8"/>
<path class="wh" d="M459,975.8V963.1M452,963.1H466M497.3,954.1V798.7M490.3,798.7H504.3M536.4,972.2V961.3M529.4,961.3H543.4M600.8,980.5V972.2M593.8,972.2H607.8M640,972.2V865.6M633,865.6H647M678.7,972.2V957.7M671.7,957.7H685.7"/>
<g class="pb"><circle cx="459" cy="963.1" r="5"/><circle cx="455" cy="970" r="5"/><circle cx="462" cy="972.5" r="5"/><circle cx="452" cy="977" r="5"/><circle cx="466" cy="977" r="5"/><circle cx="457" cy="980" r="5"/><circle cx="463" cy="981" r="5"/><circle cx="450" cy="982" r="5"/><circle cx="468" cy="982" r="5"/>
<circle cx="600.8" cy="972.2" r="5"/><circle cx="594" cy="982" r="5"/><circle cx="599" cy="982" r="5"/><circle cx="604" cy="982" r="5"/><circle cx="609" cy="982" r="5"/></g>
<g class="pr"><circle cx="497.3" cy="798.7" r="5"/><circle cx="497.3" cy="934" r="5"/><circle cx="495" cy="938" r="5"/><circle cx="497.3" cy="950" r="5"/><circle cx="499" cy="955" r="5"/><circle cx="494" cy="961" r="5"/><circle cx="497.3" cy="968" r="5"/><circle cx="490" cy="976" r="5"/><circle cx="500" cy="980" r="5"/><circle cx="505" cy="981" r="5"/><circle cx="491" cy="982" r="5"/><circle cx="497.3" cy="982" r="5"/>
<circle cx="640" cy="865.6" r="5"/><circle cx="640" cy="927" r="5"/><circle cx="640" cy="961" r="5"/><circle cx="637" cy="966" r="5"/><circle cx="643" cy="969" r="5"/><circle cx="640" cy="973" r="5"/><circle cx="634" cy="979" r="5"/><circle cx="646" cy="980" r="5"/><circle cx="640" cy="982" r="5"/><circle cx="633" cy="982" r="5"/></g>
<g class="pk"><circle cx="536.4" cy="961.3" r="5"/><circle cx="533" cy="967" r="5"/><circle cx="539.5" cy="971" r="5"/><circle cx="531" cy="975" r="5"/><circle cx="542" cy="976" r="5"/><circle cx="535" cy="980" r="5"/><circle cx="529" cy="982" r="5"/><circle cx="543" cy="982" r="5"/>
<circle cx="678.7" cy="957.7" r="5"/><circle cx="676" cy="966" r="5"/><circle cx="682" cy="969" r="5"/><circle cx="674" cy="975" r="5"/><circle cx="684" cy="976" r="5"/><circle cx="679" cy="979" r="5"/><circle cx="672" cy="982" r="5"/><circle cx="686" cy="982" r="5"/></g>

<!-- c3 -->
<text x="912" y="642" font-size="23.5" text-anchor="middle">CD8+ TNF+ (waning)</text>
<path class="ax" d="M775.6,730.9V760.5M775.6,781.1V987.1H1040"/>
<path class="tk" d="M765.5,730.9H775.6M766,760.5H782.3M766,781.1H782.3M765.5,832.6H775.6M765.5,884.1H775.6M765.5,935.6H775.6M765.5,987.1H775.6M838.3,987.1V998M977.1,987.1V998"/>
<text class="yl" x="762.7" y="738">1.0</text><text class="yl" x="762.7" y="767.5">0.5</text><text class="yl" x="762.7" y="788">0.20</text><text class="yl" x="762.7" y="839.6">0.15</text><text class="yl" x="762.7" y="891.1">0.10</text><text class="yl" x="762.7" y="942.6">0.05</text><text class="yl" x="762.7" y="994">0.00</text>
<text class="xl" x="838.3" y="1020">An</text><text class="xl" x="977.1" y="1020">BA.5</text>
<path class="br" d="M800.8,689.2V674H876.4V689.2M800.8,922.5V711.7H833.8V727.6M843.9,727.6V711.7H876.4V893.2M939.6,689.2V674H1014.6V689.2M939.6,914.3V711.7H971.5V735.3M982.7,735.3V711.7H1014.6V880"/>
<text class="ns" x="840" y="664.8">ns</text><text class="ns" x="817.6" y="701.9">ns</text><text class="ns" x="860.7" y="701.9">ns</text>
<text class="ns" x="977.1" y="664.8">ns</text><text class="ns" x="955.9" y="701.9">ns</text><text class="ns" x="999.5" y="701.9">ns</text>
<rect class="bx" x="788.8" y="945.9" width="24" height="41.2"/><rect class="bx" x="826.3" y="978.9" width="24" height="8.2"/><rect class="bx" x="864.4" y="934.1" width="24" height="53"/>
<rect class="bx" x="927.6" y="967" width="24" height="20.1"/><rect class="bx" x="965.1" y="976.9" width="24" height="10.2"/><rect class="bx" x="1002.6" y="965.1" width="24" height="22"/>
<path class="md" d="M788.8,971.6H812.8M864.4,972H888.4M927.6,980H951.6"/>
<path class="wh" d="M800.8,945.9V937.7M793.8,937.7H807.8M838.3,978.9V781.1M838.3,760.5V742.7M831.3,742.7H845.3M876.4,934.1V908.3M869.4,908.3H883.4M939.6,967V930.2M932.6,930.2H946.6M977.1,976.9V781.1M977.1,760.5V750.9M970.1,750.9H984.1M1014.6,965.1V895.9M1007.6,895.9H1021.6"/>
<g class="pb"><circle cx="792.4" cy="937.1" r="5"/><circle cx="809.2" cy="944.5" r="5"/><circle cx="800.8" cy="944.5" r="5"/><circle cx="800.8" cy="959.6" r="5"/><circle cx="793.5" cy="969.2" r="5"/><circle cx="809.2" cy="970.6" r="5"/><circle cx="800.8" cy="977.5" r="5"/><circle cx="792.4" cy="985.5" r="5"/><circle cx="800.8" cy="985.5" r="5"/><circle cx="809.2" cy="985.5" r="5"/>
<circle cx="939.6" cy="930.2" r="5"/><circle cx="939.6" cy="957.7" r="5"/><circle cx="939.6" cy="969.2" r="5"/><circle cx="932.3" cy="980.2" r="5"/><circle cx="932.3" cy="985.5" r="5"/><circle cx="939.6" cy="985.5" r="5"/><circle cx="947.5" cy="985.5" r="5"/><circle cx="944" cy="982" r="5"/></g>
<g class="pr"><circle cx="838.3" cy="742.7" r="5"/><circle cx="838.3" cy="950.5" r="5"/><circle cx="838.3" cy="972.5" r="5"/><circle cx="834.4" cy="974.7" r="5"/><circle cx="829.9" cy="985.5" r="5"/><circle cx="838.3" cy="985.5" r="5"/><circle cx="846.7" cy="985.5" r="5"/><circle cx="842" cy="981" r="5"/>
<circle cx="977.1" cy="750.9" r="5"/><circle cx="977.1" cy="945.9" r="5"/><circle cx="977.1" cy="954.1" r="5"/><circle cx="977.1" cy="959.6" r="5"/><circle cx="980" cy="976.1" r="5"/><circle cx="974" cy="980" r="5"/><circle cx="969.9" cy="985.5" r="5"/><circle cx="977.1" cy="985.5" r="5"/><circle cx="985" cy="985.5" r="5"/><circle cx="972" cy="983" r="5"/></g>
<g class="pk"><circle cx="876.4" cy="908.3" r="5"/><circle cx="876.4" cy="926.7" r="5"/><circle cx="876.4" cy="953.6" r="5"/><circle cx="868" cy="967.8" r="5"/><circle cx="880.3" cy="976" r="5"/><circle cx="868" cy="985.5" r="5"/><circle cx="876.4" cy="985.5" r="5"/><circle cx="884.8" cy="985.5" r="5"/>
<circle cx="1014.6" cy="895.9" r="5"/><circle cx="1014.6" cy="961" r="5"/><circle cx="1014.6" cy="972" r="5"/><circle cx="1006.8" cy="985.5" r="5"/><circle cx="1014.6" cy="985.5" r="5"/><circle cx="1022.5" cy="985.5" r="5"/></g>

<!-- c4 -->
<text x="1250" y="643" font-size="23.5" text-anchor="middle">CD8+ IL-21+ (waning)</text>
<path class="ax" d="M1113.8,719.4V983H1378.6"/>
<path class="tk" d="M1101.5,719.4H1113.8M1101.5,785.3H1113.8M1101.5,851.2H1113.8M1101.5,917.1H1113.8M1101.5,983H1113.8M1178.2,983V993.5M1315.9,983V993.5"/>
<text class="yl" x="1096" y="726.4">0.20</text><text class="yl" x="1096" y="792.3">0.15</text><text class="yl" x="1096" y="858.2">0.10</text><text class="yl" x="1096" y="924.1">0.05</text><text class="yl" x="1096" y="990">0.00</text>
<text class="xl" x="1178.2" y="1016">An</text><text class="xl" x="1315.9" y="1016">BA.5</text>
<path class="br" d="M1139.5,742.7V727.1H1216.2V742.7M1139.5,939.9V766.9H1172.5V875.3M1182.6,875.3V766.9H1216.2V944M1277.8,742.7V727.1H1354V742.7M1277.8,955V766.9H1310.3V888.2M1321.5,888.2V766.9H1354V895.1"/>
<text class="ns" x="1178.7" y="717.8">ns</text><text class="ns" x="1157.4" y="757.6">ns</text><text class="ns" x="1199.4" y="757.6">ns</text>
<text class="ns" x="1317" y="717.8">ns</text><text class="ns" x="1295.7" y="757.6">ns</text><text class="ns" x="1338.3" y="757.6">ns</text>
<rect class="bx" x="1127.5" y="979" width="24" height="4"/><rect class="bx" x="1166.2" y="981.5" width="24" height="1.5"/><rect class="bx" x="1204.2" y="967.2" width="24" height="15.8"/>
<rect class="bx" x="1265.8" y="981.5" width="24" height="1.5"/><rect class="bx" x="1303.9" y="981.5" width="24" height="1.5"/><rect class="bx" x="1342" y="976.4" width="24" height="6.6"/>
<path class="wh" d="M1139.5,979V955.3M1132.5,955.3H1146.5M1178.2,981.5V890.7M1171.2,890.7H1185.2M1216.2,967.2V958M1209.2,958H1223.2M1277.8,981.5V969.8M1270.8,969.8H1284.8M1315.9,981.5V903.9M1308.9,903.9H1322.9M1354,976.4V910.5M1347,910.5H1361"/>
<g class="pb"><circle cx="1139.5" cy="955.3" r="5"/><circle cx="1139.5" cy="967.2" r="5"/><circle cx="1133" cy="981.5" r="5"/><circle cx="1139.5" cy="981.5" r="5"/><circle cx="1146" cy="981.5" r="5"/><circle cx="1136" cy="981" r="5"/><circle cx="1143" cy="981" r="5"/>
<circle cx="1277.8" cy="969.8" r="5"/><circle cx="1271" cy="981.5" r="5"/><circle cx="1277" cy="981.5" r="5"/><circle cx="1284" cy="981.5" r="5"/><circle cx="1274" cy="981" r="5"/><circle cx="1281" cy="981" r="5"/></g>
<g class="pr"><circle cx="1178.2" cy="890.7" r="5"/><circle cx="1178.2" cy="963.3" r="5"/><circle cx="1172" cy="981.5" r="5"/><circle cx="1178.2" cy="981.5" r="5"/><circle cx="1184.4" cy="981.5" r="5"/>
<circle cx="1315.9" cy="903.9" r="5"/><circle cx="1321" cy="976.4" r="5"/><circle cx="1310" cy="981.5" r="5"/><circle cx="1316" cy="981.5" r="5"/><circle cx="1322" cy="981.5" r="5"/></g>
<g class="pk"><circle cx="1210.6" cy="958.2" r="5"/><circle cx="1217.3" cy="962.4" r="5"/><circle cx="1220.7" cy="969.2" r="5"/><circle cx="1214" cy="969" r="5"/><circle cx="1210" cy="981.5" r="5"/><circle cx="1216.2" cy="981.5" r="5"/><circle cx="1222.4" cy="981.5" r="5"/>
<circle cx="1354" cy="910.5" r="5"/><circle cx="1354" cy="975" r="5"/><circle cx="1348" cy="981.5" r="5"/><circle cx="1354" cy="981.5" r="5"/><circle cx="1360" cy="981.5" r="5"/></g>

<!-- legend c -->
<rect x="1375" y="792" width="20" height="14" fill="#3b55a5" stroke="#1d2f78" stroke-width="1"/>
<rect x="1375" y="816.5" width="20" height="14" fill="#e8322a" stroke="#8c1a12" stroke-width="1"/>
<rect x="1375" y="841" width="20" height="14" fill="#000"/>
<text x="1408" y="806" font-size="18.5">pHC</text>
<text x="1408" y="830.5" font-size="18.5">pSOTR monovalent</text>
<text x="1408" y="855" font-size="18.5">pSOTR bivalent</text>
</svg>
</body></html>
